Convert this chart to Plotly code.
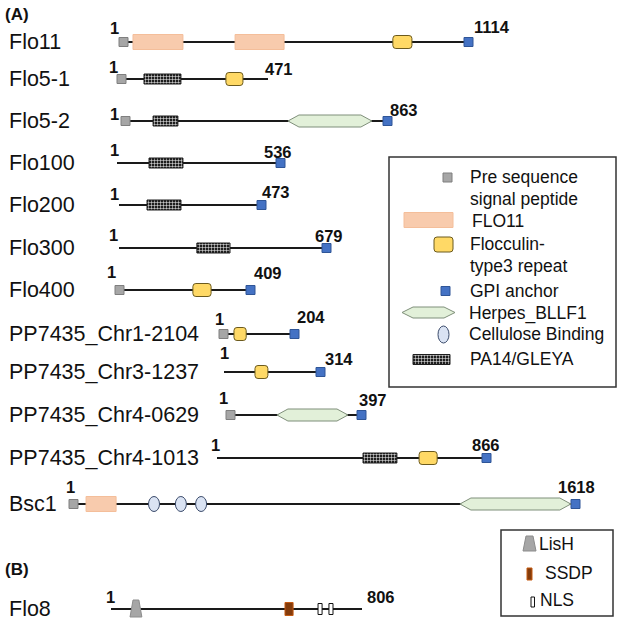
import plotly.graph_objects as go

# ---------------- data (residue numbering) ----------------
proteins = ["Flo11", "Flo5-1", "Flo5-2", "Flo100", "Flo200", "Flo300", "Flo400",
            "PP7435_Chr1-2104", "PP7435_Chr3-1237", "PP7435_Chr4-0629",
            "PP7435_Chr4-1013", "Bsc1", "Flo8"]
lengths = [1114, 471, 863, 536, 473, 679, 409, 204, 314, 397, 866, 1618, 806]

signal_peptide = ["Flo11", "Flo5-1", "Flo5-2", "Flo400", "PP7435_Chr1-2104",
                  "PP7435_Chr4-0629", "Bsc1"]
gpi_anchor = ["Flo11", "Flo5-2", "Flo100", "Flo200", "Flo300", "Flo400",
              "PP7435_Chr1-2104", "PP7435_Chr3-1237", "PP7435_Chr4-0629",
              "PP7435_Chr4-1013", "Bsc1"]

flo11_protein = ["Flo11", "Flo11", "Bsc1"]
flo11_start = [45, 366, 55]
flo11_end = [202, 520, 150]

floc_protein = ["Flo11", "Flo5-1", "Flo400", "PP7435_Chr1-2104",
                "PP7435_Chr3-1237", "PP7435_Chr4-1013"]
floc_start = [862, 340, 228, 39, 97, 639]
floc_end = [922, 393, 281, 70, 137, 696]

pa14_protein = ["Flo5-1", "Flo5-2", "Flo100", "Flo200", "Flo300", "PP7435_Chr4-1013"]
pa14_start = [85, 103, 103, 91, 250, 462]
pa14_end = [200, 182, 211, 200, 356, 569]

herpes_protein = ["Flo5-2", "PP7435_Chr4-0629", "Bsc1"]
herpes_start = [532, 145, 1238]
herpes_end = [799, 346, 1589]

cbm_protein = ["Bsc1", "Bsc1", "Bsc1"]
cbm_center = [270, 355, 419]

lish_protein = ["Flo8"]
lish_start = [62]
lish_end = [100]

ssdp_protein = ["Flo8"]
ssdp_start = [559]
ssdp_end = [585]

nls_protein = ["Flo8", "Flo8"]
nls_start = [665, 700]
nls_end = [678, 713]

legend1_labels = [["Pre sequence", "signal peptide"], ["FLO11"],
                  ["Flocculin-", "type3 repeat"], ["GPI anchor"],
                  ["Herpes_BLLF1"], ["Cellulose Binding"], ["PA14/GLEYA"]]
legend2_labels = ["LisH", "SSDP", "NLS"]

# ---------------- layout (drawing positions) ----------------
row_y = [42, 79, 121, 163, 205, 248, 290, 334, 372, 415, 458, 504, 609]
row_x0 = [119, 117, 121, 117, 119, 119, 115, 219, 224, 226, 217, 69, 111]
row_x1 = [473, 268, 392, 285, 266, 331, 255, 299, 325, 366, 491, 580, 362]
one_xy = [(114, 28), (113, 67), (114, 114), (114, 150), (114, 194), (113, 235),
          (111, 272), (219, 319), (224, 353), (223, 398), (215, 445), (70, 487),
          (110, 597)]
len_xy = [(472, 27), (263, 69), (388, 110), (262, 152), (260, 192), (313, 236),
          (252, 273), (295, 317), (323, 359), (357, 400), (470, 445), (556, 487),
          (365, 597)]

FONT = "Liberation Sans, Arial, sans-serif"
SQ = 9

idx = {p: i for i, p in enumerate(proteins)}


def px(p, aa):
    i = idx[p]
    return row_x0[i] + (aa - 1) / (lengths[i] - 1) * (row_x1[i] - row_x0[i])


fig = go.Figure()
shapes = []
annotations = []

# backbones
for i, p in enumerate(proteins):
    shapes.append(dict(type="line", x0=row_x0[i], x1=row_x1[i], y0=row_y[i], y1=row_y[i],
                       line=dict(color="#1a1a1a", width=1.8), layer="below"))

# legend boxes
shapes.append(dict(type="rect", x0=389, x1=616, y0=157, y1=387,
                   line=dict(color="#333333", width=1.5), layer="below"))
shapes.append(dict(type="rect", x0=501, x1=613, y0=530, y1=616,
                   line=dict(color="#333333", width=1.5), layer="below"))


def hbar(name, ys, bases, widths, heights, color, line_color, pattern=None):
    marker = dict(color=color, line=dict(color=line_color, width=1))
    if pattern:
        marker["pattern"] = pattern
    fig.add_trace(go.Bar(name=name, orientation="h", y=ys, x=widths, base=bases,
                         width=heights, marker=marker, hoverinfo="skip"))


# FLO11 domains
ys = [row_y[idx[p]] for p in flo11_protein]
b = [px(p, s) for p, s in zip(flo11_protein, flo11_start)]
w = [px(p, e) - px(p, s) for p, s, e in zip(flo11_protein, flo11_start, flo11_end)]
ys.append(220); b.append(404); w.append(49)
hbar("FLO11", ys, b, w, [15] * len(ys), "#F8CBAD", "#F4BE9A")

# PA14 domains
pa_pattern = dict(shape="+", fgcolor="white", bgcolor="#1e1e1e", size=3,
                  solidity=0.3, fillmode="replace")
ys = [row_y[idx[p]] for p in pa14_protein]
b = [px(p, s) for p, s in zip(pa14_protein, pa14_start)]
w = [px(p, e) - px(p, s) for p, s, e in zip(pa14_protein, pa14_start, pa14_end)]
ys.append(359.5); b.append(413); w.append(37)
hbar("PA14", ys, b, w, [10] * len(ys), "#1e1e1e", "#1e1e1e", pa_pattern)

# SSDP
ys = [row_y[idx[p]] for p in ssdp_protein]
b = [px(p, s) for p, s in zip(ssdp_protein, ssdp_start)]
w = [px(p, e) - px(p, s) for p, s, e in zip(ssdp_protein, ssdp_start, ssdp_end)]
ys.append(574); b.append(527); w.append(5)
hbar("SSDP", ys, b, w, [13, 12], "#843C0C", "#C55A11")

# NLS
ys = [row_y[idx[p]] for p in nls_protein]
b = [px(p, s) for p, s in zip(nls_protein, nls_start)]
w = [px(p, e) - px(p, s) for p, s, e in zip(nls_protein, nls_start, nls_end)]
ys.append(602); b.append(531); w.append(3.5)
hbar("NLS", ys, b, w, [11, 11, 10], "white", "#111111")

# signal peptide squares
sx = [row_x0[idx[p]] + SQ / 2 for p in signal_peptide] + [447.5]
sy = [row_y[idx[p]] for p in signal_peptide] + [177.5]
fig.add_trace(go.Scatter(x=sx, y=sy, mode="markers", hoverinfo="skip",
                         marker=dict(symbol="square", size=SQ, color="#A6A6A6",
                                     line=dict(color="#7F7F7F", width=1))))
# GPI squares
gx = [row_x1[idx[p]] - SQ / 2 for p in gpi_anchor] + [445.5]
gy = [row_y[idx[p]] for p in gpi_anchor] + [291]
fig.add_trace(go.Scatter(x=gx, y=gy, mode="markers", hoverinfo="skip",
                         marker=dict(symbol="square", size=SQ, color="#4472C4",
                                     line=dict(color="#2F5597", width=1))))


def rrect(xa, xb, yc, h, r=3):
    ya, yb = yc - h / 2, yc + h / 2
    return (f"M{xa + r},{ya} L{xb - r},{ya} Q{xb},{ya} {xb},{ya + r} "
            f"L{xb},{yb - r} Q{xb},{yb} {xb - r},{yb} L{xa + r},{yb} "
            f"Q{xa},{yb} {xa},{yb - r} L{xa},{ya + r} Q{xa},{ya} {xa + r},{ya} Z")


def hexa(xa, xb, yc, h, t=11):
    ya, yb = yc - h / 2, yc + h / 2
    return (f"M{xa},{yc} L{xa + t},{ya} L{xb - t},{ya} L{xb},{yc} "
            f"L{xb - t},{yb} L{xa + t},{yb} Z")


# flocculin repeats
for p, s, e in zip(floc_protein, floc_start, floc_end):
    shapes.append(dict(type="path", path=rrect(px(p, s), px(p, e), row_y[idx[p]], 13),
                       fillcolor="#FFD966", line=dict(color="#6B5A1E", width=1)))
shapes.append(dict(type="path", path=rrect(434, 453, 244.5, 15),
                   fillcolor="#FFD966", line=dict(color="#6B5A1E", width=1)))

# herpes domains
for p, s, e in zip(herpes_protein, herpes_start, herpes_end):
    shapes.append(dict(type="path", path=hexa(px(p, s), px(p, e), row_y[idx[p]], 12),
                       fillcolor="#E2F0D9", line=dict(color="#7F8F7A", width=1)))
shapes.append(dict(type="path", path=hexa(402, 455, 312.5, 11),
                   fillcolor="#E2F0D9", line=dict(color="#7F8F7A", width=1)))

# cellulose binding
for p, c in zip(cbm_protein, cbm_center):
    xc = px(p, c)
    yc = row_y[idx[p]]
    shapes.append(dict(type="circle", x0=xc - 5.5, x1=xc + 5.5, y0=yc - 7.5, y1=yc + 7.5,
                       fillcolor="#DAE3F3", line=dict(color="#3A4A6A", width=1)))
shapes.append(dict(type="circle", x0=438, x1=449, y0=326, y1=343,
                   fillcolor="#DAE3F3", line=dict(color="#3A4A6A", width=1)))

# LisH
for p, s, e in zip(lish_protein, lish_start, lish_end):
    xa, xb = px(p, s), px(p, e)
    yc = row_y[idx[p]]
    shapes.append(dict(type="path",
                       path=f"M{xa},{yc + 8} L{xa + 3},{yc - 9} L{xb - 3},{yc - 9} L{xb},{yc + 8} Z",
                       fillcolor="#A6A6A6", line=dict(color="#8C8C8C", width=1)))
shapes.append(dict(type="path", path="M523,551 L526,536 L533,536 L536,551 Z",
                   fillcolor="#A6A6A6", line=dict(color="#8C8C8C", width=1)))

# ---------------- text ----------------
def txt(x, y, s, size, bold=False, anchor="left"):
    annotations.append(dict(x=x, y=y, text=f"<b>{s}</b>" if bold else s, showarrow=False,
                            xanchor=anchor, yanchor="middle",
                            font=dict(family=FONT, size=size, color="#111111")))


txt(3, 14, "(A)", 17, bold=True)
txt(3, 569, "(B)", 17, bold=True)
for i, p in enumerate(proteins):
    txt(7, row_y[i], p, 21.5)
    txt(one_xy[i][0], one_xy[i][1], "1", 16.5, bold=True, anchor="center")
    txt(len_xy[i][0], len_xy[i][1], str(lengths[i]), 16.5, bold=True)

leg1_y = [[177, 199], [221], [244, 266], [291], [313], [334], [359]]
leg1_x = [468, 470, 468, 468, 467, 467, 468]
for lines, ys_, x_ in zip(legend1_labels, leg1_y, leg1_x):
    for t, y_ in zip(lines, ys_):
        txt(x_, y_, t, 17.5)

leg2_y = [544, 573, 600]
leg2_x = [537, 543, 538]
for t, x_, y_ in zip(legend2_labels, leg2_x, leg2_y):
    txt(x_, y_, t, 17.5)

fig.update_layout(
    width=624, height=624, margin=dict(l=0, r=0, t=0, b=0),
    paper_bgcolor="white", plot_bgcolor="white",
    barmode="overlay", showlegend=False, hovermode=False,
    xaxis=dict(range=[0, 624], visible=False, fixedrange=True),
    yaxis=dict(range=[624, 0], visible=False, fixedrange=True),
    shapes=shapes, annotations=annotations,
)
fig.write_html("out.html", config={"displayModeBar": False},
               post_script="document.body.style.margin='0';document.body.style.overflow='hidden';")
